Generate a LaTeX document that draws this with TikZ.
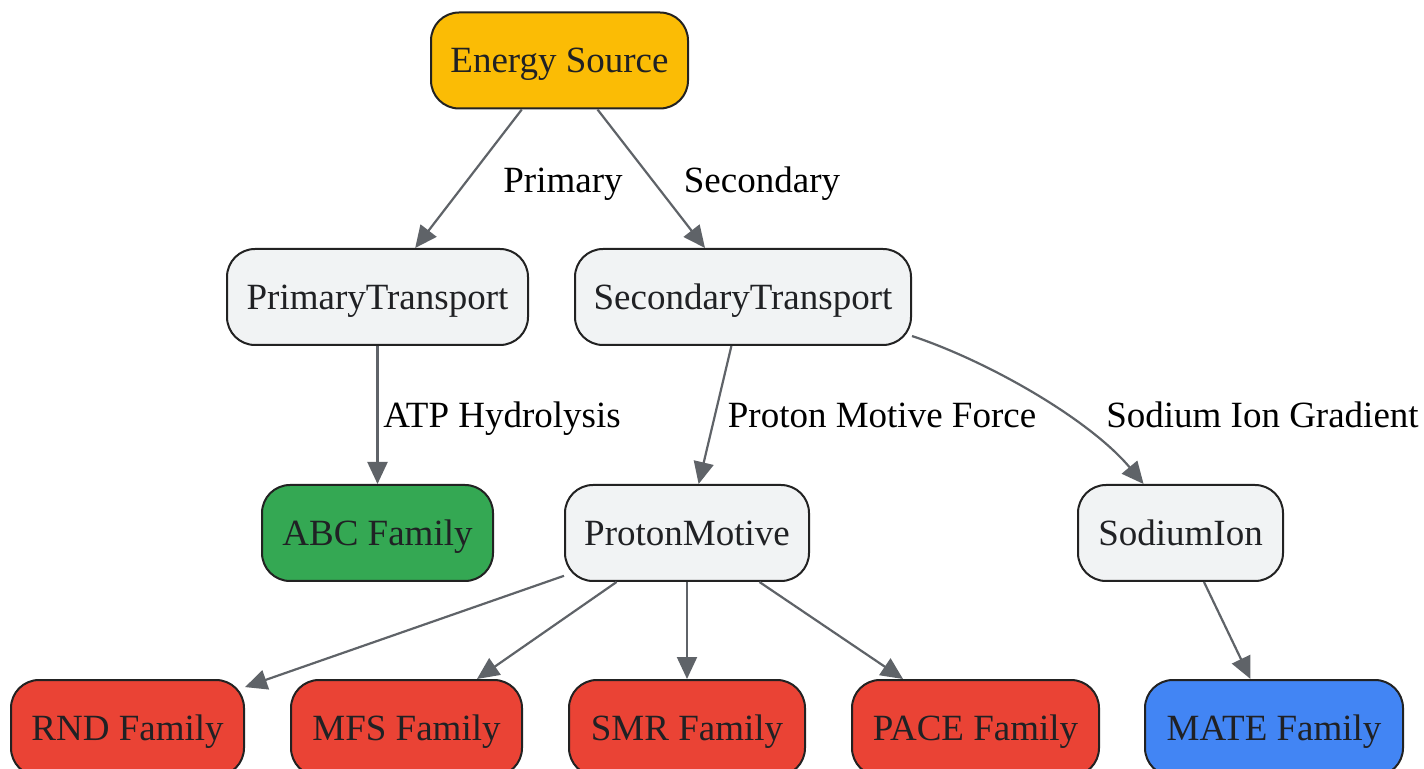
\documentclass[tikz,border=0pt]{standalone}
\usepackage{fontspec}
\setmainfont{Liberation Serif}
\usetikzlibrary{arrows.meta}
\definecolor{cOrange}{HTML}{FBBC05}
\definecolor{cGreen}{HTML}{34A853}
\definecolor{cRed}{HTML}{EA4335}
\definecolor{cBlue}{HTML}{4285F4}
\definecolor{cGrayFill}{HTML}{F1F3F4}
\definecolor{cBorder}{HTML}{222222}
\definecolor{cEdge}{HTML}{5F6368}
\definecolor{cText}{HTML}{202124}
\tikzset{
  box/.style={draw=cBorder, line width=1pt, rounded corners=14pt, minimum height=48pt,
    inner sep=0pt, text height=12.25pt, text depth=0pt, text=cText,
    font=\fontsize{18.5pt}{22pt}\selectfont},
  plainbox/.style={box, fill=cGrayFill},
  lbl/.style={inner sep=0pt, text height=12.25pt, text depth=0pt, text=black,
    font=\fontsize{18.5pt}{22pt}\selectfont},
  edge/.style={draw=cEdge, line width=1.1pt, -{Triangle[length=11pt,width=10pt]}}
}
\begin{document}
\begin{tikzpicture}[x=0.5pt,y=-0.5pt]
\useasboundingbox (0,0) rectangle (1424,769);
\clip (0,0) rectangle (1424,769);
\node[box, fill=cOrange, minimum width=128.5pt] (energy) at (559.5,60.5) {Energy Source};
\node[plainbox, minimum width=150.5pt] (prim) at (377.5,297) {PrimaryTransport};
\node[plainbox, minimum width=168pt] (sec) at (743,297) {SecondaryTransport};
\node[box, fill=cGreen, minimum width=115.5pt] (abc) at (377.5,533) {ABC Family};
\node[plainbox, minimum width=122pt] (pm) at (687,533) {ProtonMotive};
\node[plainbox, minimum width=102.5pt] (sod) at (1180.5,533) {SodiumIon};
\node[box, fill=cRed, minimum width=116.5pt] (rnd) at (127.5,728) {RND Family};
\node[box, fill=cRed, minimum width=115.5pt] (mfs) at (406.5,728) {MFS Family};
\node[box, fill=cRed, minimum width=118pt] (smr) at (687,728) {SMR Family};
\node[box, fill=cRed, minimum width=123.5pt] (pace) at (975.5,728) {PACE Family};
\node[box, fill=cBlue, minimum width=129pt] (mate) at (1274,728) {MATE Family};

\draw[edge] (energy) -- (prim);
\draw[edge] (energy) -- (sec);
\draw[edge] (prim) -- (abc);
\draw[edge] (sec) -- (pm);
\draw[edge] (sec.-13.3) .. controls (990,362) and (1090,420) .. (sod.127);
\draw[edge] (pm) -- (rnd);
\draw[edge] (pm) -- (mfs);
\draw[edge] (pm) -- (smr);
\draw[edge] (pm) -- (pace);
\draw[edge] (sod) -- (mate);

\node[lbl] (lprim) at (563,180) {Primary};
\node[lbl] (lsec) at (762,180) {Secondary};
\node[lbl] (latp) at (502,415) {ATP Hydrolysis};
\node[lbl] (lpmf) at (882,415) {Proton Motive Force};
\node[lbl] (lsod) at (1262.5,415) {Sodium Ion Gradient};
\end{tikzpicture}
\end{document}
